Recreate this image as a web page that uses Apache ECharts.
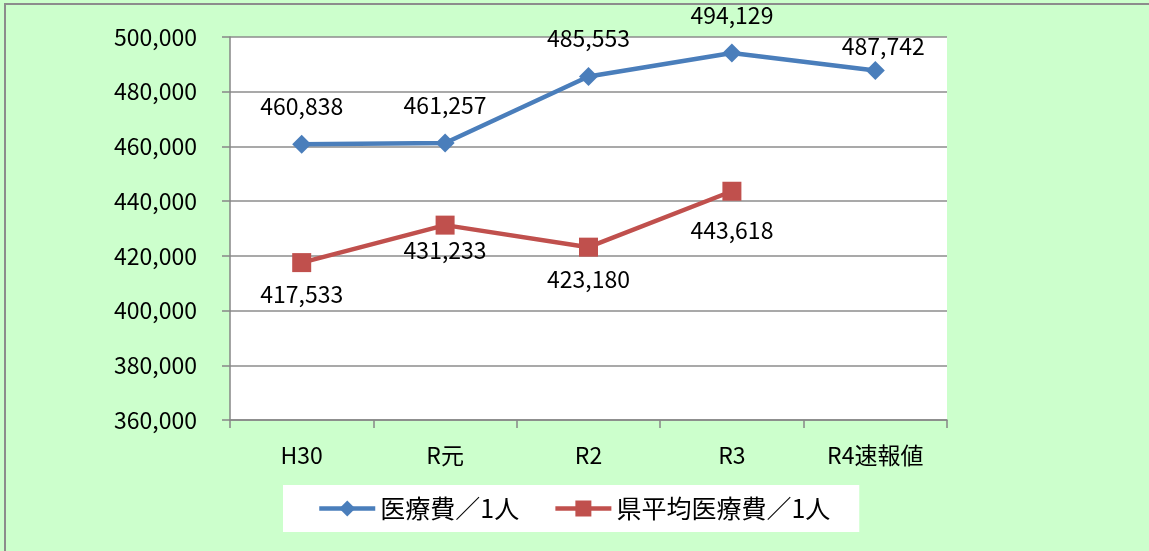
<!DOCTYPE html>
<html>
<head>
<meta charset="utf-8">
<script src="https://cdn.jsdelivr.net/npm/echarts@6/dist/echarts.min.js"></script>
<style>
html,body{margin:0;padding:0;background:#CCFFCC;}
#chart{width:1149px;height:551px;}
</style>
</head>
<body>
<div id="chart"></div>
<script>
const categories = ['H30', 'R元', 'R2', 'R3', 'R4速報値'];
const medicalPerPerson = [460838, 461257, 485553, 494129, 487742];
const prefAvgPerPerson = [417533, 431233, 423180, 443618, null];
const seriesNames = ['医療費／1人', '県平均医療費／1人'];
const yTicks = { min: 360000, max: 500000, interval: 20000 };

const FONT = '"Noto Sans CJK JP", "Noto Sans", sans-serif';
const fmt = v => Number(v).toLocaleString('en-US');

const chart = echarts.init(document.getElementById('chart'));
chart.setOption({
  backgroundColor: '#CCFFCC',
  animation: false,
  textStyle: { fontFamily: FONT },
  graphic: [{
    type: 'rect', silent: true, z: 100,
    shape: { x: 5, y: 4, width: 1160, height: 560 },
    style: { fill: 'none', stroke: '#8C8C8C', lineWidth: 2 }
  }],
  grid: { left: 230, right: 202, top: 37, bottom: 131, backgroundColor: '#FFFFFF', show: true, borderWidth: 0 },
  legend: {
    left: 283, top: 485,
    backgroundColor: '#FFFFFF',
    padding: [11, 29, 11, 34],
    itemGap: 34,
    itemWidth: 56, itemHeight: 20,
    lineStyle: { width: 4.5 },
    textStyle: { fontSize: 25, color: '#000', fontFamily: FONT },
    data: seriesNames
  },
  xAxis: {
    type: 'category',
    data: categories,
    boundaryGap: true,
    axisLine: { lineStyle: { color: '#868686', width: 1.5 } },
    axisTick: { show: true, length: 8, alignWithLabel: false, lineStyle: { color: '#868686', width: 1.5 } },
    axisLabel: { fontSize: 23, color: '#000', margin: 24, fontFamily: FONT }
  },
  yAxis: {
    type: 'value',
    min: yTicks.min, max: yTicks.max, interval: yTicks.interval,
    axisLine: { show: true, lineStyle: { color: '#868686', width: 1.5 } },
    axisTick: { show: true, length: 8, lineStyle: { color: '#868686', width: 1.5 } },
    splitLine: { lineStyle: { color: '#8C8C8C', width: 1.5 } },
    axisLabel: { fontSize: 23, color: '#000', margin: 33, fontFamily: FONT, formatter: fmt }
  },
  series: [{
    name: seriesNames[0],
    type: 'line',
    data: medicalPerPerson.map((v, i) => i === 4 ? { value: v, label: { distance: 3, offset: [8, 0] } } : v),
    symbol: 'diamond', symbolSize: 19,
    lineStyle: { color: '#4A7EBB', width: 4.5 },
    itemStyle: { color: '#4A7EBB' },
    label: { show: true, position: 'top', distance: 17, fontSize: 23, color: '#000', fontFamily: FONT, formatter: p => fmt(p.value) }
  }, {
    name: seriesNames[1],
    type: 'line',
    data: prefAvgPerPerson.map((v, i) => i === 1 ? { value: v, label: { distance: 4 } } : (i === 3 ? { value: v, label: { distance: 18 } } : v)),
    symbol: 'rect', symbolSize: 19,
    lineStyle: { color: '#C0504D', width: 4.5 },
    itemStyle: { color: '#C0504D' },
    label: { show: true, position: 'bottom', distance: 11, fontSize: 23, color: '#000', fontFamily: FONT, formatter: p => fmt(p.value) }
  }]
});
</script>
</body>
</html>
